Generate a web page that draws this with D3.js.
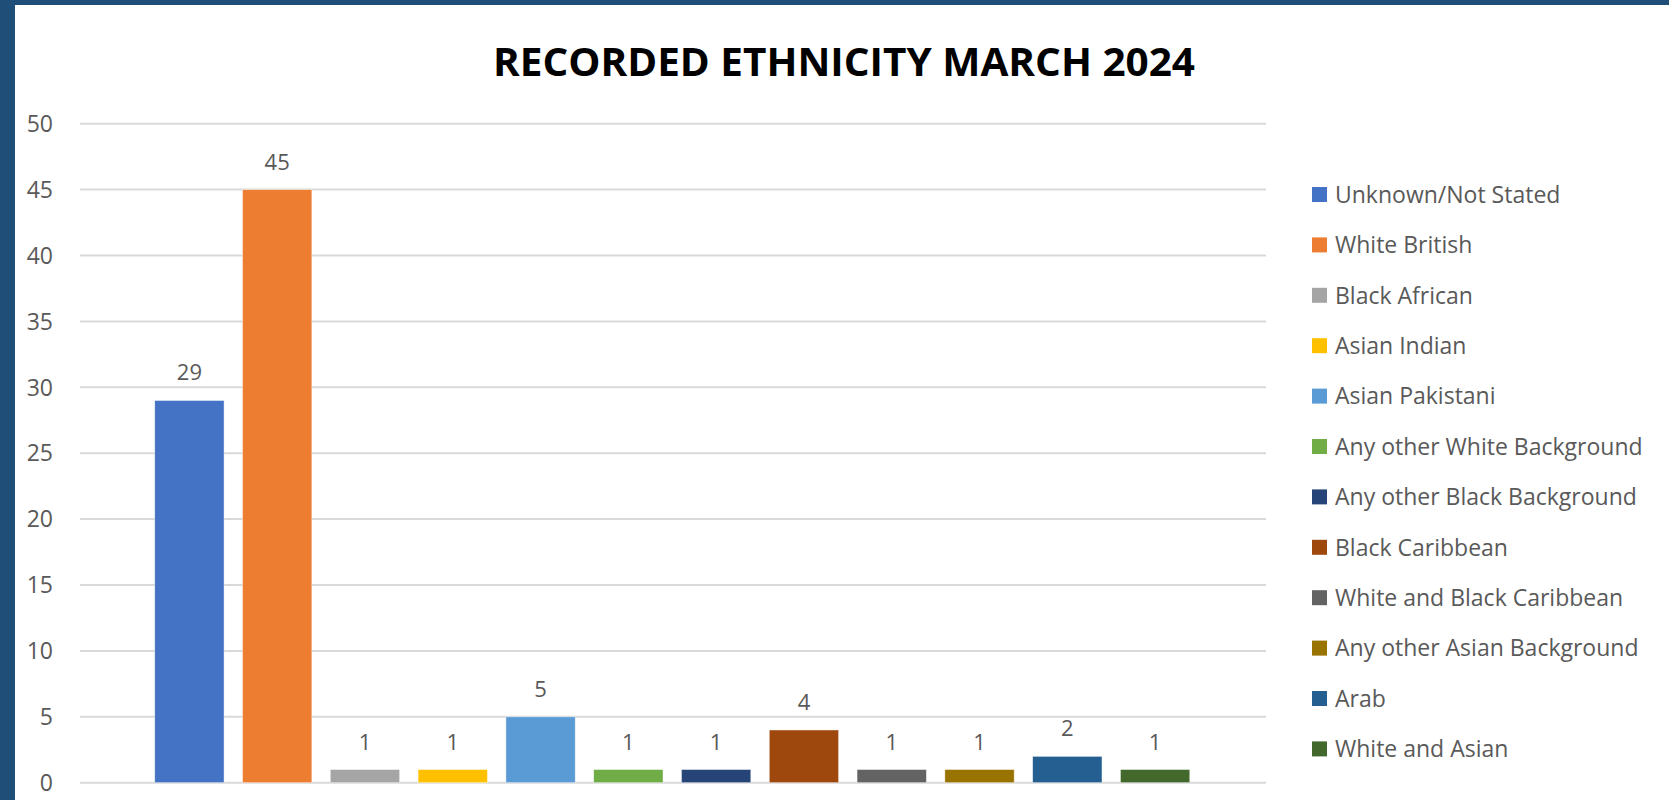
<!DOCTYPE html>
<html>
<head>
<meta charset="utf-8">
<script src="https://cdn.jsdelivr.net/npm/d3@7"></script>
<style>
  body { margin: 0; background: #1f4e79; }
  svg { display: block; }
  text { font-family: "Open Sans", "Noto Sans", sans-serif; }
</style>
</head>
<body>
<svg id="chart"></svg>
<script>
const categories = [
    'Unknown/Not Stated', 'White British', 'Black African', 'Asian Indian',
    'Asian Pakistani', 'Any other White Background', 'Any other Black Background',
    'Black Caribbean', 'White and Black Caribbean', 'Any other Asian Background',
    'Arab', 'White and Asian'
];
const counts = [29, 45, 1, 1, 5, 1, 1, 4, 1, 1, 2, 1];
const yTicks = [0, 5, 10, 15, 20, 25, 30, 35, 40, 45, 50];
const colors = ['#4472c4', '#ed7d31', '#a5a5a5', '#ffc000', '#5b9bd5', '#70ad47',
    '#264478', '#9e480e', '#636363', '#997300', '#255e91', '#43682b'];
const title = 'RECORDED ETHNICITY MARCH 2024';

const width = 1669, height = 800;
const svg = d3.select('#chart').attr('width', width).attr('height', height);

// white card inside the blue frame
svg.append('rect')
    .attr('x', 15).attr('y', 5)
    .attr('width', width - 15).attr('height', height - 5)
    .attr('fill', '#fff');

let x = d3.scaleBand()
    .domain(categories)
    .range([145.5, 1199])
    .paddingInner(0.21)
    .paddingOuter(0.105);

let y = d3.scaleLinear().domain([0, 50]).range([782.7, 123.7]);

let color = d3.scaleOrdinal().domain(categories).range(colors);

// gridlines + tick labels
let grid = svg.append('g');
grid.selectAll('line')
    .data(yTicks)
    .join('line')
    .attr('x1', 80).attr('x2', 1266)
    .attr('y1', d => y(d)).attr('y2', d => y(d))
    .attr('stroke', '#d9d9d9')
    .attr('stroke-width', 2);

grid.selectAll('text')
    .data(yTicks)
    .join('text')
    .attr('x', 53)
    .attr('y', d => y(d))
    .attr('dy', '0.36em')
    .attr('text-anchor', 'end')
    .attr('fill', '#595959')
    .style('font-size', '23px')
    .text(d => d);

let data = categories.map((c, i) => ({ label: c, count: counts[i] }));

svg.append('g').selectAll('rect')
    .data(data)
    .join('rect')
    .attr('x', d => x(d.label))
    .attr('y', d => y(d.count))
    .attr('width', x.bandwidth())
    .attr('height', d => y(0) - y(d.count))
    .attr('fill', d => color(d.label))
    .attr('stroke', '#fff')
    .attr('stroke-opacity', 0.6)
    .attr('stroke-width', 0.75);

svg.append('g').selectAll('text')
    .data(data)
    .join('text')
    .attr('x', d => x(d.label) + x.bandwidth() / 2)
    .attr('y', d => y(d.count) - 20)
    .attr('text-anchor', 'middle')
    .attr('fill', '#595959')
    .style('font-size', '22px')
    .text(d => d.count);

// title
svg.append('text')
    .attr('x', 844)
    .attr('y', 76)
    .attr('text-anchor', 'middle')
    .attr('textLength', 702)
    .attr('lengthAdjust', 'spacingAndGlyphs')
    .attr('fill', '#000')
    .style('font-size', '40px')
    .style('font-weight', 'bold')
    .text(title);

// legend
let legend = svg.append('g').selectAll('g')
    .data(categories)
    .join('g')
    .attr('transform', (d, i) => `translate(1312, ${194.5 + i * 50.4})`);

legend.append('rect')
    .attr('x', 0).attr('y', -7.5)
    .attr('width', 15).attr('height', 15)
    .attr('fill', d => color(d));

legend.append('text')
    .attr('x', 23)
    .attr('y', 0)
    .attr('dy', '0.36em')
    .attr('fill', '#595959')
    .style('font-size', '23px')
    .text(d => d);
</script>
</body>
</html>
